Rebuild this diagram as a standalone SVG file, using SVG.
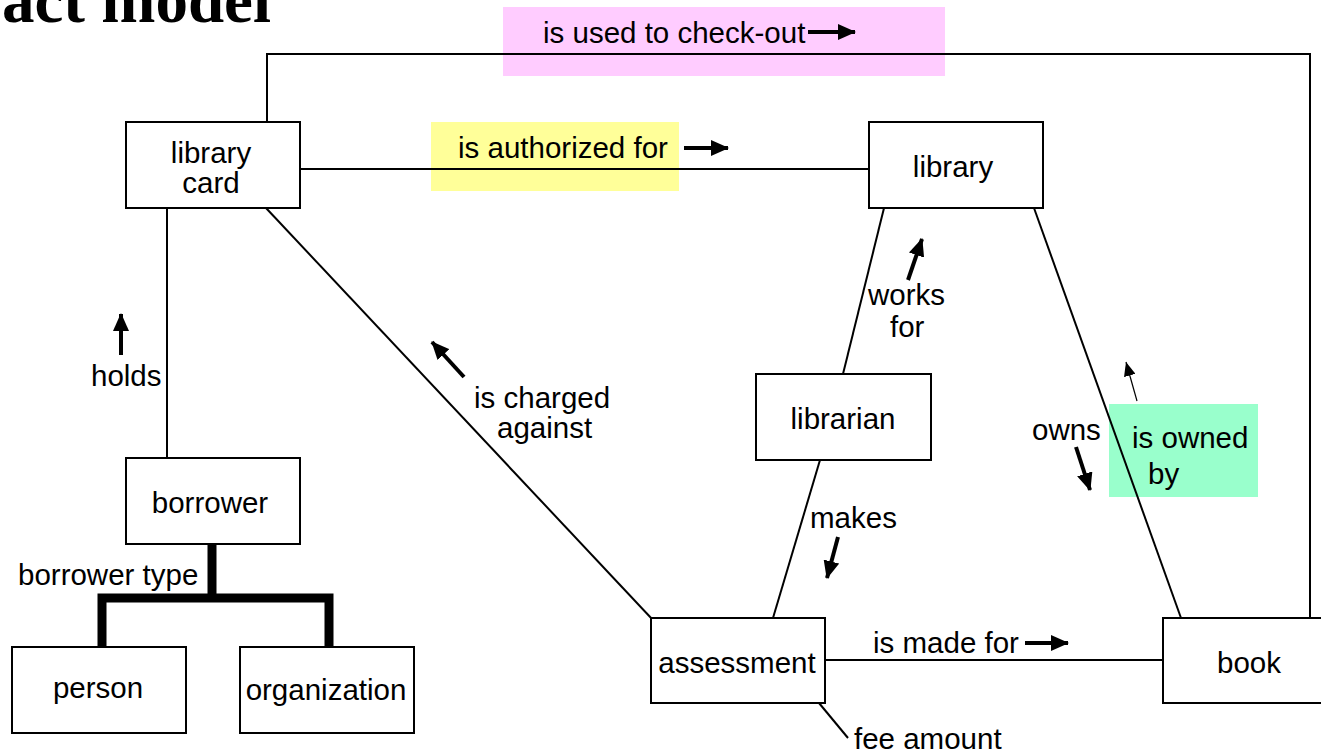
<svg xmlns="http://www.w3.org/2000/svg" width="1321" height="751" viewBox="0 0 1321 751">
<style>
.box{fill:#fff;stroke:#000;stroke-width:2}
.t{font-family:"Liberation Sans",Arial,sans-serif;font-size:29.5px;fill:#000}
.c{text-anchor:middle}
.ln{stroke:#000;stroke-width:2;fill:none}
.thick{stroke:#000;stroke-width:9;fill:none}
.arr{stroke:#000;stroke-width:4;fill:none;marker-end:url(#ah)}
.arrt{stroke:#000;stroke-width:1.2;fill:none;marker-end:url(#aht)}
</style>
<defs>
<marker id="ah" markerUnits="userSpaceOnUse" markerWidth="18" markerHeight="16" refX="17" refY="8" orient="auto"><path d="M0,0 L18,8 L0,16 z" fill="#000"/></marker>
<marker id="aht" markerUnits="userSpaceOnUse" markerWidth="14" markerHeight="12" refX="14" refY="6" orient="auto"><path d="M0,0 L14,6 L0,12 z" fill="#000"/></marker>
</defs>
<rect width="1321" height="751" fill="#fff"/>
<text x="2" y="22" font-family="Liberation Serif,'Times New Roman',serif" font-weight="bold" font-size="65">act model</text>

<g id="highlights">
<rect x="503" y="7" width="442" height="69" fill="#ffccff"/>
<rect x="431" y="122" width="248" height="69" fill="#ffff99"/>
<rect x="1109" y="404" width="149" height="93" fill="#99ffcc"/>
</g>

<g id="connectors">
<polyline class="ln" points="267,122 267,54 1310,54 1310,618"/>
<line class="ln" x1="300" y1="169" x2="869" y2="169"/>
<line class="ln" x1="167" y1="208" x2="167" y2="458"/>
<line class="ln" x1="266" y1="208" x2="652" y2="619"/>
<line class="ln" x1="884" y1="208" x2="843" y2="374"/>
<line class="ln" x1="820" y1="460" x2="773" y2="618"/>
<line class="ln" x1="1034" y1="208" x2="1181" y2="618"/>
<line class="ln" x1="825" y1="660" x2="1163" y2="660"/>
<line class="ln" x1="819" y1="703" x2="848" y2="738"/>
<polyline class="thick" points="212,544 212,598"/>
<polyline class="thick" points="102,647 102,598 329,598 329,647"/>
<line class="arr" x1="808" y1="32" x2="855" y2="32"/>
<line class="arr" x1="684" y1="148" x2="728" y2="148"/>
<line class="arr" x1="121" y1="355" x2="121" y2="314"/>
<line class="arr" x1="464" y1="377" x2="432" y2="342"/>
<line class="arr" x1="908" y1="280" x2="922" y2="239"/>
<line class="arr" x1="838" y1="537" x2="827" y2="578"/>
<line class="arr" x1="1076" y1="447" x2="1090" y2="490"/>
<line class="arrt" x1="1137" y1="401" x2="1126" y2="362"/>
<line class="arr" x1="1025" y1="643" x2="1068" y2="643"/>
</g>

<g id="labels">
<text class="t" x="543" y="43">is used to check-out</text>
<text class="t" x="458" y="158">is authorized for</text>
<text class="t" x="91" y="386">holds</text>
<text class="t" x="474" y="408">is charged</text>
<text class="t" x="497" y="438">against</text>
<text class="t" x="868" y="305">works</text>
<text class="t" x="890" y="337">for</text>
<text class="t" x="810" y="528">makes</text>
<text class="t" x="1032" y="440">owns</text>
<text class="t" x="1132" y="448">is owned</text>
<text class="t" x="1148" y="484">by</text>
<text class="t" x="873" y="653">is made for</text>
<text class="t" x="854" y="749">fee amount</text>
<text class="t" x="18" y="585">borrower type</text>
</g>

<g id="library-card"><rect class="box" x="126" y="122" width="174" height="86"/><text class="t c" x="211" y="163">library</text><text class="t c" x="211" y="193">card</text></g>
<g id="library"><rect class="box" x="869" y="122" width="174" height="86"/><text class="t c" x="953" y="177">library</text></g>
<g id="librarian"><rect class="box" x="756" y="374" width="175" height="86"/><text class="t c" x="843" y="429">librarian</text></g>
<g id="borrower"><rect class="box" x="126" y="458" width="174" height="86"/><text class="t c" x="210" y="513">borrower</text></g>
<g id="person"><rect class="box" x="12" y="647" width="174" height="86"/><text class="t c" x="98" y="698">person</text></g>
<g id="organization"><rect class="box" x="240" y="647" width="174" height="86"/><text class="t c" x="326" y="700">organization</text></g>
<g id="assessment"><rect class="box" x="651" y="618" width="174" height="85"/><text class="t c" x="737" y="673">assessment</text></g>
<g id="book"><rect class="box" x="1163" y="618" width="160" height="85"/><text class="t c" x="1249" y="673">book</text></g>
</svg>
